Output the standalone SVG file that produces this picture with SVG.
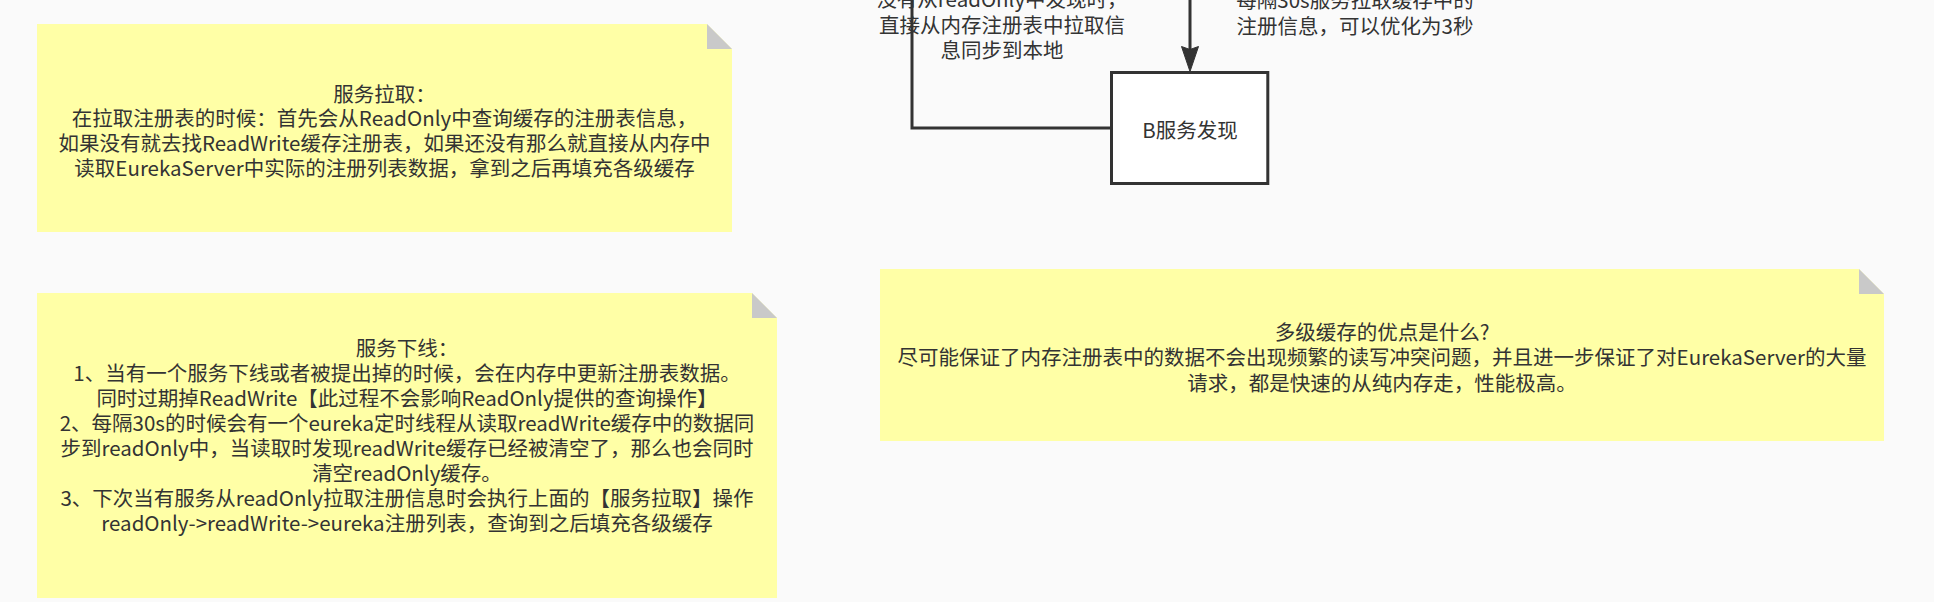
<svg xmlns="http://www.w3.org/2000/svg" width="1934" height="602" viewBox="0 0 1934 602">
<style>
.bg{fill:#fafafa}
.note{fill:#ffffa6;stroke:none}
.fold{fill:#c9c9c9;stroke:none}
.t{font-family:"Noto Sans CJK SC","Noto Sans",sans-serif;font-size:20.5px;fill:#333333;text-anchor:middle}
.edge{fill:none;stroke:#333333;stroke-width:3}
.box{fill:#ffffff;stroke:#333333;stroke-width:3}
</style>
<rect class="bg" x="0" y="0" width="1934" height="602"/>
<g id="connectors">
<path class="edge" d="M1110 128 L912 128 L912 -10"/>
<path class="edge" d="M1190 -10 L1190 50"/>
<polygon points="1190,71.5 1181.5,46.5 1190,49.5 1198.5,46.5" fill="#333333" stroke="#333333" stroke-width="1"/>
<g id="label-left">
<text class="t" x="1002" y="7">没有从readOnly中发现时，</text>
<text class="t" x="1002" y="32.5">直接从内存注册表中拉取信</text>
<text class="t" x="1002" y="58">息同步到本地</text>
</g>
<g id="label-right">
<text class="t" x="1355" y="7.5">每隔30s服务拉取缓存中的</text>
<text class="t" x="1355" y="33.5">注册信息，可以优化为3秒</text>
</g>
</g>
<g id="node-b">
<rect class="box" x="1111.5" y="72.5" width="156.3" height="111"/>
<text class="t" x="1190" y="137.5">B服务发现</text>
</g>
<g id="note-pull">
<polygon class="note" points="37,24 707,24 732,49 732,232 37,232"/>
<polygon class="fold" points="707,24 707,49 732,49"/>
<text class="t" x="384.5" y="101.6">服务拉取：</text>
<text class="t" x="384.5" y="126.3">在拉取注册表的时候：首先会从ReadOnly中查询缓存的注册表信息，</text>
<text class="t" x="384.5" y="151">如果没有就去找ReadWrite缓存注册表，如果还没有那么就直接从内存中</text>
<text class="t" x="384.5" y="175.7">读取EurekaServer中实际的注册列表数据，拿到之后再填充各级缓存</text>
</g>
<g id="note-offline">
<polygon class="note" points="37,293 752,293 777,318 777,598 37,598"/>
<polygon class="fold" points="752,293 752,318 777,318"/>
<text class="t" x="407" y="355.7">服务下线：</text>
<text class="t" x="407" y="380.7">1、当有一个服务下线或者被提出掉的时候，会在内存中更新注册表数据。</text>
<text class="t" x="407" y="405.7">同时过期掉ReadWrite【此过程不会影响ReadOnly提供的查询操作】</text>
<text class="t" x="407" y="430.7">2、每隔30s的时候会有一个eureka定时线程从读取readWrite缓存中的数据同</text>
<text class="t" x="407" y="455.7">步到readOnly中，当读取时发现readWrite缓存已经被清空了，那么也会同时</text>
<text class="t" x="407" y="480.7">清空readOnly缓存。</text>
<text class="t" x="407" y="505.7">3、下次当有服务从readOnly拉取注册信息时会执行上面的【服务拉取】操作</text>
<text class="t" x="407" y="530.7">readOnly-&gt;readWrite-&gt;eureka注册列表，查询到之后填充各级缓存</text>
</g>
<g id="note-advantage">
<polygon class="note" points="880,269 1859,269 1884,294 1884,441 880,441"/>
<polygon class="fold" points="1859,269 1859,294 1884,294"/>
<text class="t" x="1382" y="339.5">多级缓存的优点是什么?</text>
<text class="t" x="1382" y="365">尽可能保证了内存注册表中的数据不会出现频繁的读写冲突问题，并且进一步保证了对EurekaServer的大量</text>
<text class="t" x="1382" y="390.5">请求，都是快速的从纯内存走，性能极高。</text>
</g>
</svg>
